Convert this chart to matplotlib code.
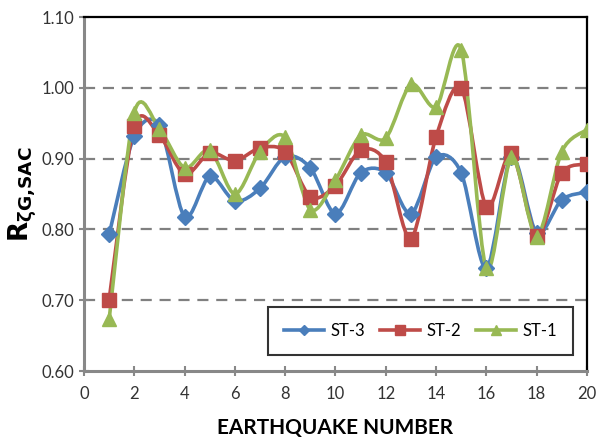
import matplotlib
matplotlib.use("Agg")
import matplotlib.pyplot as plt
from matplotlib.path import Path
from matplotlib.patches import PathPatch
from matplotlib.lines import Line2D
import numpy as np

quake = np.arange(1, 21)
st3 = [0.793, 0.932, 0.947, 0.818, 0.875, 0.840, 0.858, 0.903, 0.887, 0.822,
       0.880, 0.880, 0.822, 0.902, 0.880, 0.745, 0.903, 0.795, 0.842, 0.853]
st2 = [0.701, 0.946, 0.933, 0.878, 0.908, 0.897, 0.915, 0.910, 0.846, 0.862,
       0.912, 0.895, 0.787, 0.931, 1.000, 0.832, 0.908, 0.791, 0.880, 0.892]
st1 = [0.673, 0.965, 0.942, 0.887, 0.912, 0.850, 0.910, 0.930, 0.828, 0.870,
       0.933, 0.929, 1.005, 0.973, 1.054, 0.745, 0.902, 0.790, 0.910, 0.941]

names = ["ST-3", "ST-2", "ST-1"]
series = [st3, st2, st1]
colors = ["#4A7EBB", "#BE4B48", "#98B954"]
markers = ["D", "s", "^"]
msizes = [8, 10, 10]

plt.rcParams["font.family"] = ["Lato", "DejaVu Sans"]


def smooth_path(x, y, k=0.15):
    # cubic Bezier segments through every point, tangents from neighbours
    pts = np.column_stack([x, y]).astype(float)
    n = len(pts)
    verts = [pts[0]]
    codes = [Path.MOVETO]
    for i in range(n - 1):
        p0 = pts[i - 1] if i > 0 else pts[i]
        p1 = pts[i]
        p2 = pts[i + 1]
        p3 = pts[i + 2] if i + 2 < n else pts[i + 1]
        c1 = p1 + (p2 - p0) * k
        c2 = p2 - (p3 - p1) * k
        verts += [c1, c2, p2]
        codes += [Path.CURVE4] * 3
    return Path(verts, codes)


fig = plt.figure(figsize=(5.98, 4.37), dpi=100)
ax = fig.add_axes([0.1405, 0.151, 0.841, 0.810])

handles = []
for name, vals, c, m, ms in zip(names, series, colors, markers, msizes):
    ax.add_patch(PathPatch(smooth_path(quake, vals), fill=False, edgecolor=c,
                           linewidth=2.6, zorder=3))
    ax.plot(quake, vals, linestyle="none", marker=m, markersize=ms,
            color=c, zorder=4)
    handles.append(Line2D([], [], color=c, linewidth=2.6, marker=m,
                          markersize=ms * 0.7, label=name))

ax.set_xlim(0, 20)
ax.set_ylim(0.60, 1.10)
ax.set_xticks(range(0, 21, 2))
ax.set_yticks(np.arange(0.6, 1.101, 0.1))
ax.set_yticklabels([f"{v:.2f}" for v in np.arange(0.6, 1.101, 0.1)])

for v in [0.7, 0.8, 0.9, 1.0]:
    ax.axhline(v, color="#808080", linewidth=1.6, linestyle=(0, (5, 3.5)), zorder=1)

for side in ["left", "bottom"]:
    ax.spines[side].set_color("#888888")
    ax.spines[side].set_linewidth(2.2)
for side in ["top", "right"]:
    ax.spines[side].set_color("black")
    ax.spines[side].set_linewidth(1.6)

ax.tick_params(direction="inout", length=7, width=1.5, color="#888888",
               labelsize=12, labelcolor="#333333")
ax.tick_params(axis="x", pad=7)

ax.set_xlabel("EARTHQUAKE NUMBER", fontsize=15, fontweight="bold", labelpad=12)
ax.set_ylabel(r"$\mathbf{R}_{\mathbf{\zeta G{,}SAC}}$", fontsize=19, labelpad=2)

leg = ax.legend(handles=handles, ncol=3, loc="lower right",
                bbox_to_anchor=(0.973, 0.045), fontsize=12, frameon=True,
                fancybox=False, edgecolor="black", handlelength=2.4,
                handletextpad=0.4, columnspacing=0.9, borderpad=0.95,
                borderaxespad=0)
leg.get_frame().set_linewidth(1.5)

fig.savefig("out.png", dpi=100)
